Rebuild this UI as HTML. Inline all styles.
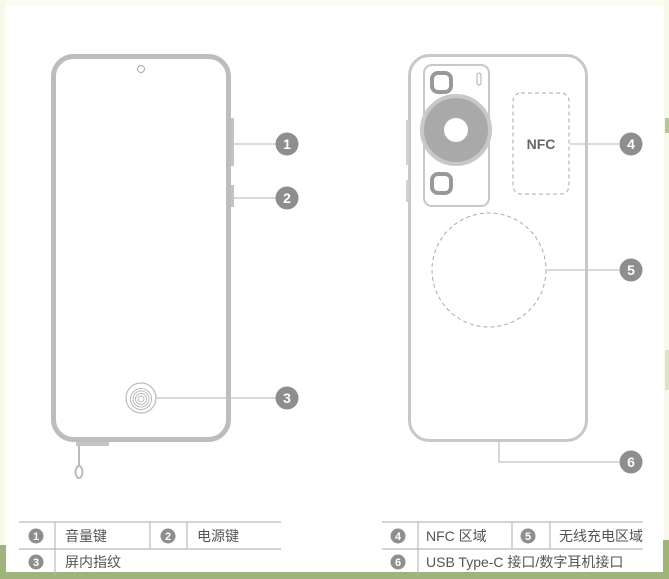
<!DOCTYPE html>
<html><head><meta charset="utf-8"><style>
html,body{margin:0;padding:0;background:#fff}
svg{display:block}
text{font-family:"Liberation Sans","Noto Sans CJK SC",sans-serif}
</style></head><body>
<svg width="669" height="579" viewBox="0 0 669 579" xmlns="http://www.w3.org/2000/svg">
<rect width="669" height="579" fill="#fff"/>
<rect x="0" y="0" width="669" height="6" fill="#fbfcef"/>
<rect x="0" y="0" width="5" height="579" fill="#f6f8ea"/>
<rect x="664" y="0" width="5" height="579" fill="#f6f8ea"/>
<rect x="0" y="545" width="6" height="34" fill="#9fb47a"/>
<rect x="663" y="540" width="6" height="39" fill="#9fb47a"/>
<rect x="0" y="572" width="669" height="7" fill="#9fb47a"/>
<rect x="665" y="118" width="4" height="15" fill="#b5c594"/>
<rect x="665" y="350" width="4" height="40" fill="#dde4c8"/>

<!-- front phone -->
<rect x="53.5" y="56.5" width="175" height="383" rx="20" fill="none" stroke="#bdbdbd" stroke-width="5"/>
<rect x="231" y="118" width="3" height="48" fill="#c4c4c4"/>
<rect x="231" y="185" width="3" height="22" fill="#c4c4c4"/>
<circle cx="141" cy="69" r="3.5" fill="none" stroke="#aaa" stroke-width="1"/>
<circle cx="141" cy="398" r="15" fill="none" stroke="#bbb" stroke-width="1.2"/>
<g fill="none" stroke="#aaa" stroke-width="0.8">
<circle cx="141" cy="399" r="3"/><circle cx="141" cy="399" r="5.5"/><circle cx="141" cy="399" r="8"/><circle cx="141" cy="399" r="10.5"/>
</g>
<rect x="76" y="442" width="33" height="4" fill="#c4c4c4"/>
<line x1="79" y1="446" x2="79" y2="466" stroke="#bbb" stroke-width="2"/>
<ellipse cx="79" cy="472" rx="3.5" ry="6" fill="none" stroke="#bbb" stroke-width="2"/>
<g stroke="#c4c4c4" stroke-width="1.3">
<line x1="234" y1="144" x2="276" y2="144"/>
<line x1="234" y1="198" x2="276" y2="198"/>
<line x1="156" y1="398" x2="276" y2="398"/>
</g>

<!-- back phone -->
<rect x="409.5" y="55.5" width="177" height="385" rx="20" fill="none" stroke="#c8c8c8" stroke-width="3"/>
<rect x="406" y="120" width="3" height="45" fill="#d0d0d0"/>
<rect x="406" y="180" width="3" height="22" fill="#d0d0d0"/>
<rect x="424" y="65" width="65" height="141" rx="8" fill="none" stroke="#c8c8c8" stroke-width="2"/>
<rect x="432" y="73" width="19" height="19" rx="6" fill="none" stroke="#999" stroke-width="4"/>
<rect x="432" y="174" width="19" height="19" rx="6" fill="none" stroke="#999" stroke-width="4"/>
<rect x="477" y="73" width="4" height="12" rx="2" fill="none" stroke="#bbb" stroke-width="1.2"/>
<circle cx="456" cy="130" r="34" fill="#a9a9a9" stroke="#c8c8c8" stroke-width="4"/>
<circle cx="456" cy="130" r="12" fill="#fff"/>
<rect x="513" y="93" width="56" height="101" rx="8" fill="none" stroke="#aaa" stroke-width="1" stroke-dasharray="4,3"/>
<text x="541" y="149" font-size="14" font-weight="bold" fill="#666" text-anchor="middle">NFC</text>
<circle cx="489" cy="270" r="57" fill="none" stroke="#aaa" stroke-width="1" stroke-dasharray="4,3"/>
<g stroke="#c4c4c4" stroke-width="1.3" fill="none">
<line x1="570" y1="144" x2="619" y2="144"/>
<line x1="547" y1="270" x2="619" y2="270"/>
<polyline points="499,441 499,462 619,462"/>
</g>

<g font-size="14" font-weight="bold" fill="#fff" text-anchor="middle">
<circle cx="287" cy="144" r="11.5" fill="#8e8e8e"/><text x="287" y="149">1</text>
<circle cx="287" cy="198" r="11.5" fill="#8e8e8e"/><text x="287" y="203">2</text>
<circle cx="287" cy="398" r="11.5" fill="#8e8e8e"/><text x="287" y="403">3</text>
<circle cx="631" cy="144" r="11.5" fill="#8e8e8e"/><text x="631" y="149">4</text>
<circle cx="631" cy="270" r="11.5" fill="#8e8e8e"/><text x="631" y="275">5</text>
<circle cx="631" cy="462" r="11.5" fill="#8e8e8e"/><text x="631" y="467">6</text>
</g>

<!-- tables -->
<g stroke="#bbb" stroke-width="1.2">
<line x1="19" y1="522" x2="281" y2="522"/>
<line x1="19" y1="549" x2="281" y2="549"/>
<line x1="55" y1="522" x2="55" y2="575"/>
<line x1="150" y1="522" x2="150" y2="549"/>
<line x1="187" y1="522" x2="187" y2="549"/>
<line x1="382" y1="522" x2="643" y2="522"/>
<line x1="382" y1="549" x2="643" y2="549"/>
<line x1="418" y1="522" x2="418" y2="575"/>
<line x1="512" y1="522" x2="512" y2="549"/>
<line x1="550" y1="522" x2="550" y2="549"/>
</g>
<g font-size="11" font-weight="bold" fill="#fff" text-anchor="middle">
<circle cx="36" cy="536" r="7.5" fill="#8e8e8e"/><text x="36" y="540">1</text>
<circle cx="168" cy="536" r="7.5" fill="#8e8e8e"/><text x="168" y="540">2</text>
<circle cx="36" cy="562" r="7.5" fill="#8e8e8e"/><text x="36" y="566">3</text>
<circle cx="398" cy="536" r="7.5" fill="#8e8e8e"/><text x="398" y="540">4</text>
<circle cx="528" cy="536" r="7.5" fill="#8e8e8e"/><text x="528" y="540">5</text>
<circle cx="398" cy="562" r="7.5" fill="#8e8e8e"/><text x="398" y="566">6</text>
</g>
<g font-size="14" fill="#555">
<text x="65" y="541">音量键</text>
<text x="197" y="541">电源键</text>
<text x="65" y="567">屏内指纹</text>
<text x="426" y="541">NFC 区域</text>
<text x="559" y="541">无线充电区域</text>
<text x="426" y="567">USB Type-C 接口/数字耳机接口</text>
</g>
</svg>
</body></html>
